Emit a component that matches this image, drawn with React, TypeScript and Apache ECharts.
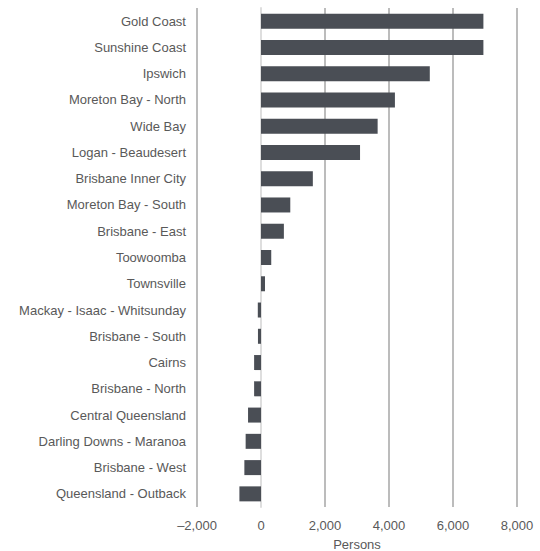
import React, { useEffect, useRef } from "react";
import * as echarts from "echarts";

const regions = [
  "Gold Coast",
  "Sunshine Coast",
  "Ipswich",
  "Moreton Bay - North",
  "Wide Bay",
  "Logan - Beaudesert",
  "Brisbane Inner City",
  "Moreton Bay - South",
  "Brisbane - East",
  "Toowoomba",
  "Townsville",
  "Mackay - Isaac - Whitsunday",
  "Brisbane - South",
  "Cairns",
  "Brisbane - North",
  "Central Queensland",
  "Darling Downs - Maranoa",
  "Brisbane - West",
  "Queensland - Outback",
];

const persons = [
  6950, 6950, 5275, 4185, 3645, 3095, 1620, 915, 715, 320, 125, -100, -95,
  -215, -215, -405, -480, -520, -675,
];

const xMin = -2000;
const xMax = 8000;
const xInterval = 2000;

const FONT = "'Liberation Sans', Arial, sans-serif";

export default function App() {
  const ref = useRef<HTMLDivElement>(null);
  useEffect(() => {
    if (!ref.current) return;
    const chart = echarts.init(ref.current, null, { renderer: "svg" });
    chart.setOption({
      animation: false,
      textStyle: { fontFamily: FONT },
      grid: {
        left: 197,
        right: 23,
        top: 8,
        bottom: 44,
        containLabel: false,
        outerBoundsMode: "none",
      },
      xAxis: {
        type: "value",
        min: xMin,
        max: xMax,
        interval: xInterval,
        name: "Persons",
        nameLocation: "middle",
        nameGap: 31,
        nameTextStyle: { color: "#595959", fontSize: 13, fontFamily: FONT },
        axisLine: { show: false },
        axisTick: { show: false },
        axisLabel: {
          color: "#595959",
          fontSize: 13,
          fontFamily: FONT,
          margin: 12,
          formatter: (v: number) =>
            (v < 0 ? "\u2013" : "") + Math.abs(v).toLocaleString("en-US"),
        },
        splitLine: {
          show: true,
          lineStyle: {
            color: ["#a6a6a6", "#e0e0e0", "#a6a6a6", "#a6a6a6", "#a6a6a6", "#a6a6a6"],
            width: 1.5,
          },
        },
      },
      yAxis: {
        type: "category",
        data: regions,
        inverse: true,
        axisLine: { show: true, onZero: true, lineStyle: { color: "#dedede", width: 2 } },
        axisTick: { show: false },
        axisLabel: {
          color: "#595959",
          fontSize: 13,
          fontFamily: FONT,
          margin: 11,
          interval: 0,
        },
      },
      series: [
        {
          type: "bar",
          data: persons,
          barWidth: 15,
          itemStyle: { color: "#4a4e55" },
          silent: true,
        },
      ],
    });
    return () => chart.dispose();
  }, []);
  return (
    <div
      ref={ref}
      style={{ position: "absolute", left: 0, top: 0, width: 540, height: 551 }}
    />
  );
}
